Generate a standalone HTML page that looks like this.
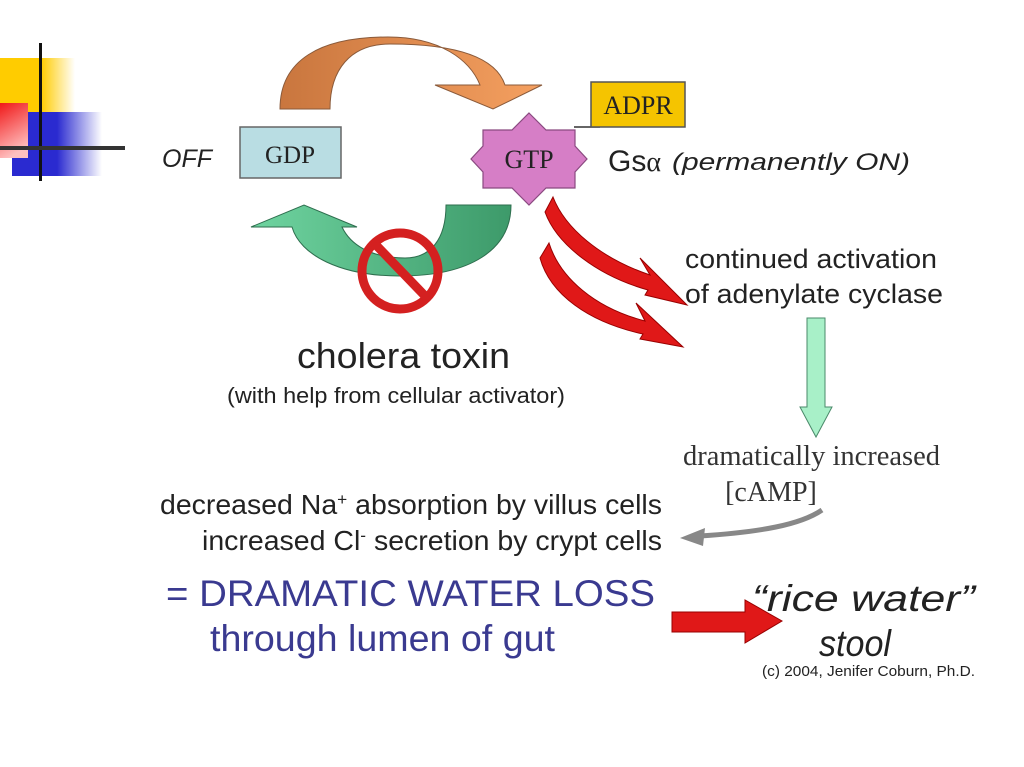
<!DOCTYPE html>
<html><head><meta charset="utf-8"><style>
html,body{margin:0;padding:0;background:#fff;width:1024px;height:767px;overflow:hidden}
svg{display:block}
</style></head><body>
<svg width="1024" height="767" viewBox="0 0 1024 767" xmlns="http://www.w3.org/2000/svg" font-family="Liberation Sans, sans-serif">
<defs>
<linearGradient id="gy" x1="0" x2="1"><stop offset="0.55" stop-color="#ffcc00"/><stop offset="1" stop-color="#ffcc00" stop-opacity="0"/></linearGradient>
<linearGradient id="gb" x1="0" x2="1"><stop offset="0.5" stop-color="#2a2ad0"/><stop offset="1" stop-color="#2a2ad0" stop-opacity="0"/></linearGradient>
<linearGradient id="gr" x1="0" y1="0" x2="0.3" y2="1"><stop offset="0" stop-color="#f01818"/><stop offset="1" stop-color="#ffc0c0"/></linearGradient>
<linearGradient id="go" x1="0" x2="1"><stop offset="0" stop-color="#c9763e"/><stop offset="1" stop-color="#f5a060"/></linearGradient>
<linearGradient id="gg" x1="0" x2="1"><stop offset="0" stop-color="#6fd4a0"/><stop offset="1" stop-color="#3d9a6a"/></linearGradient>
</defs>
<rect x="0" y="58" width="75" height="54" fill="url(#gy)"/>
<rect x="12" y="112" width="90" height="64" fill="url(#gb)"/>
<rect x="0" y="103" width="28" height="55" fill="url(#gr)"/>
<rect x="39" y="43" width="3" height="138" fill="#111"/>
<rect x="0" y="146" width="125" height="4" fill="#333"/>

<path d="M280,109 C280,60 320,37 388,37 C440,37 470,60 480,85 L435,85 L493,109 L542,85 L505,85 C495,55 450,44 390,44 C350,44 330,70 330,109 Z" fill="url(#go)" stroke="#8a5a3a" stroke-width="1"/>

<rect x="240" y="127" width="101" height="51" fill="#b9dde3" stroke="#666" stroke-width="1.5"/>
<text x="290" y="163" font-family="Liberation Serif, serif" font-size="25" text-anchor="middle" fill="#222">GDP</text>
<text x="162" y="167" font-size="25" font-style="italic" fill="#222">OFF</text>

<line x1="574" y1="127" x2="600" y2="127" stroke="#333" stroke-width="1.5"/>
<rect x="591" y="82" width="94" height="45" fill="#f5c400" stroke="#555" stroke-width="1.5"/>
<text x="638" y="114" font-family="Liberation Serif, serif" font-size="26" text-anchor="middle" fill="#222">ADPR</text>

<polygon points="529,113 546,130 575,130 575,146 587,159 575,172 575,188 546,188 529,205 512,188 483,188 483,172 471,159 483,146 483,130 512,130" fill="#d67ec6" stroke="#8a4a80" stroke-width="1.2"/>
<text x="529" y="168" font-family="Liberation Serif, serif" font-size="26" text-anchor="middle" fill="#222">GTP</text>
<text x="608" y="171" font-size="30" fill="#222">Gs<tspan font-family="Liberation Serif, serif" font-size="28">α</tspan></text>
<text x="672" y="170" font-size="24" font-style="italic" fill="#222" textLength="238" lengthAdjust="spacingAndGlyphs">(permanently ON)</text>

<path d="M511,205 C511,250 470,276 400,276 C340,276 300,255 292,227 L251,227 L304,205 L357,227 L342,227 C350,244 370,258 405,258 C430,258 446,240 446,205 Z" fill="url(#gg)" stroke="#2e6e4e" stroke-width="1"/>

<circle cx="400" cy="271" r="38" fill="none" stroke="#d42020" stroke-width="9"/>
<line x1="375" y1="244" x2="427" y2="298" stroke="#d42020" stroke-width="9"/>

<path d="M553,197 C565,228 600,258 650,275 L640,258 L687,305 L645,295 L648,290 C598,276 557,245 545,212 Z" fill="#e01818" stroke="#900" stroke-width="1"/>
<path d="M549,243 C560,278 595,308 645,321 L636,303 L683,347 L640,339 L643,334 C588,322 550,294 540,258 Z" fill="#e01818" stroke="#900" stroke-width="1"/>

<text x="685" y="268" font-size="27" fill="#222" textLength="252" lengthAdjust="spacingAndGlyphs">continued activation</text>
<text x="685" y="303" font-size="27" fill="#222" textLength="258" lengthAdjust="spacingAndGlyphs">of adenylate cyclase</text>

<path d="M807,318 L825,318 L825,407 L832,407 L816,437 L800,407 L807,407 Z" fill="#a8f0c8" stroke="#4a8a6a" stroke-width="1"/>

<text x="683" y="465" font-family="Liberation Serif, serif" font-size="28" fill="#333" textLength="257" lengthAdjust="spacingAndGlyphs">dramatically increased</text>
<text x="771" y="501" font-family="Liberation Serif, serif" font-size="28" fill="#333" text-anchor="middle">[cAMP]</text>

<path d="M822,510 C800,525 760,532 700,536" fill="none" stroke="#888" stroke-width="5"/>
<polygon points="680,538 705,528 703,546" fill="#888"/>

<text x="160" y="514" font-size="28" fill="#222" textLength="502" lengthAdjust="spacingAndGlyphs">decreased Na<tspan font-size="17" dy="-9">+</tspan><tspan dy="9"> absorption by villus cells</tspan></text>
<text x="202" y="550" font-size="28" fill="#222" textLength="460" lengthAdjust="spacingAndGlyphs">increased Cl<tspan font-size="17" dy="-9">-</tspan><tspan dy="9"> secretion by crypt cells</tspan></text>

<text x="166" y="606" font-size="37" fill="#3a3a90" textLength="489" lengthAdjust="spacingAndGlyphs">= DRAMATIC WATER LOSS</text>
<text x="210" y="651" font-size="37" fill="#3a3a90" textLength="345" lengthAdjust="spacingAndGlyphs">through lumen of gut</text>

<path d="M672,612 L745,612 L745,600 L782,621 L745,643 L745,632 L672,632 Z" fill="#e01818" stroke="#900" stroke-width="1"/>

<text x="752" y="611" font-size="37" font-style="italic" fill="#222" textLength="223" lengthAdjust="spacingAndGlyphs">“rice water”</text>
<text x="855" y="656" font-size="37" font-style="italic" fill="#222" text-anchor="middle" textLength="72" lengthAdjust="spacingAndGlyphs">stool</text>
<text x="762" y="676" font-size="15" fill="#222" textLength="213" lengthAdjust="spacingAndGlyphs">(c) 2004, Jenifer Coburn, Ph.D.</text>

<text x="297" y="368" font-size="36" fill="#222" textLength="213" lengthAdjust="spacingAndGlyphs">cholera toxin</text>
<text x="227" y="403" font-size="22" fill="#222" textLength="338" lengthAdjust="spacingAndGlyphs">(with help from cellular activator)</text>
</svg>
</body></html>
